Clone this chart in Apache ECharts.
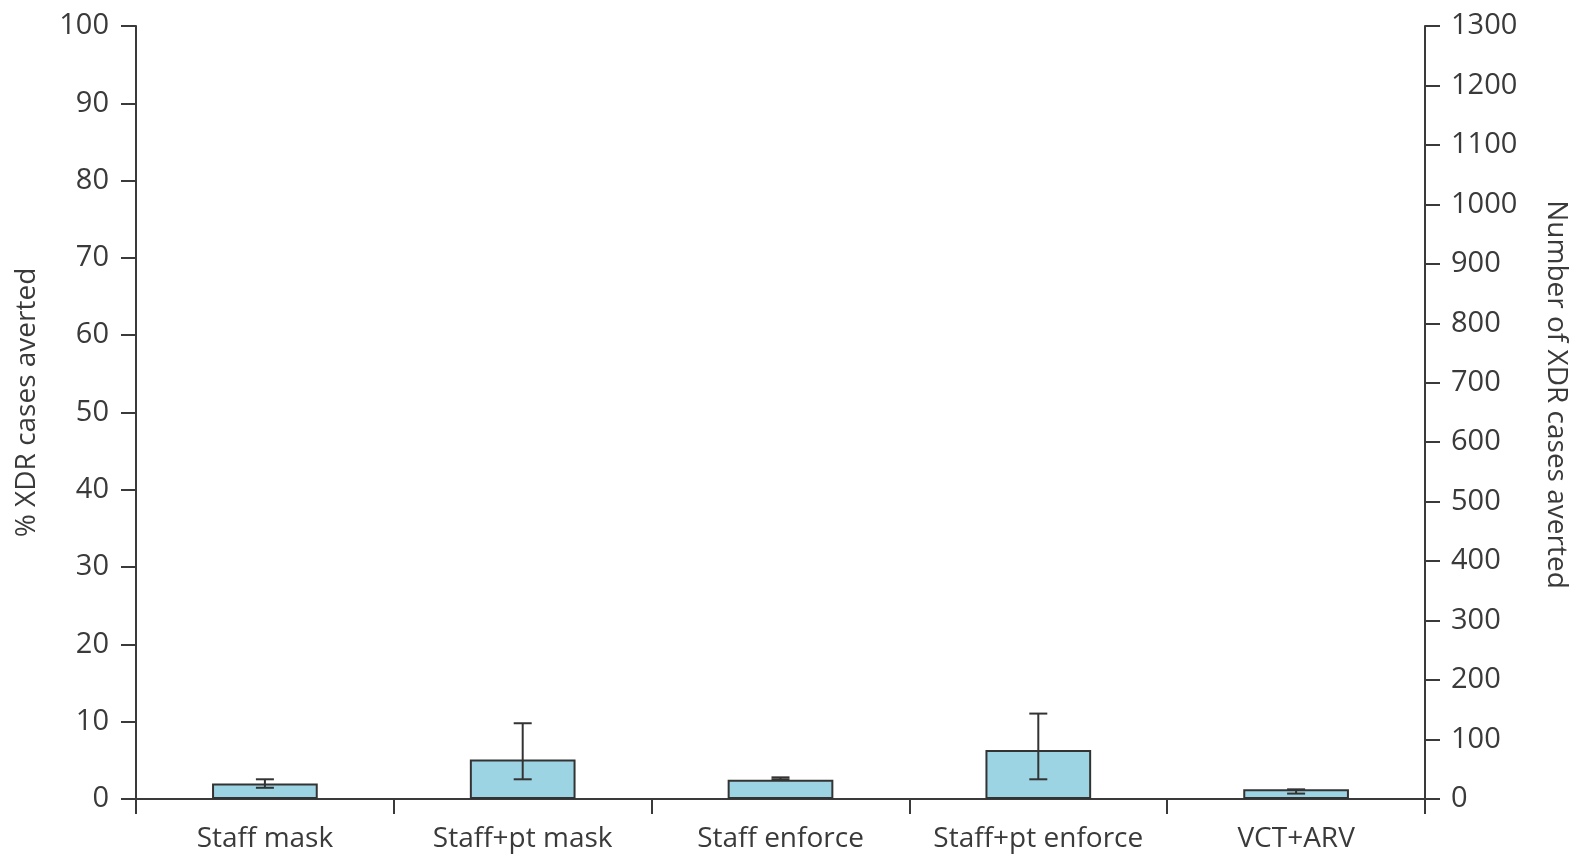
<!DOCTYPE html>
<html>
<head>
<meta charset="utf-8">
<script src="https://cdn.jsdelivr.net/npm/echarts@6/dist/echarts.min.js"></script>
<style>
  html, body { margin: 0; padding: 0; background: #fff; }
  #chart { width: 1578px; height: 856px; }
</style>
</head>
<body>
<div id="chart"></div>
<script>
// Interventions and the share of XDR cases averted by each (%)
const categories = ['Staff mask', 'Staff+pt mask', 'Staff enforce', 'Staff+pt enforce', 'VCT+ARV'];
const percentAverted = [2.0, 5.1, 2.5, 6.35, 1.25];
// Uncertainty range for each intervention (%)
const errorLow = [1.45, 2.55, 2.55, 2.55, 0.7];
const errorHigh = [2.55, 9.8, 2.8, 11.05, 1.25];
// Axis scales: percentage on the left, number of cases on the right
const leftMax = 100, leftStep = 10;
const rightMax = 1300, rightStep = 100;

const textColor = '#3a3a3a';
const lineColor = '#3a3a3a';
const fontFamily = '"Open Sans", "Noto Sans", sans-serif';

const errorData = categories.map((c, i) => [i, errorLow[i], errorHigh[i]]);

const chart = echarts.init(document.getElementById('chart'));
chart.setOption({
  animation: false,
  grid: { left: 136, right: 152, top: 26, bottom: 57 },
  xAxis: {
    type: 'category',
    data: categories,
    axisLine: { lineStyle: { color: lineColor, width: 2 } },
    axisTick: { show: true, length: 15, inside: false, lineStyle: { color: lineColor, width: 2 } },
    axisLabel: { interval: 0, color: textColor, fontSize: 28, fontFamily: fontFamily, margin: 26 }
  },
  yAxis: [
    {
      type: 'value', min: 0, max: leftMax, interval: leftStep,
      name: '% XDR cases averted', nameLocation: 'middle', nameGap: 95,
      nameTextStyle: { color: textColor, fontSize: 28, fontFamily: fontFamily, padding: [0, 0, 0, 20] },
      axisLine: { show: true, lineStyle: { color: lineColor, width: 2 } },
      axisTick: { show: true, length: 15, lineStyle: { color: lineColor, width: 2 } },
      axisLabel: { color: textColor, fontSize: 29, fontFamily: fontFamily, margin: 27 },
      splitLine: { show: false }
    },
    {
      type: 'value', min: 0, max: rightMax, interval: rightStep, position: 'right',
      name: 'Number of XDR cases averted', nameLocation: 'middle', nameGap: 117, nameRotate: -90,
      nameTextStyle: { color: textColor, fontSize: 28, fontFamily: fontFamily, padding: [0, 36, 0, 0] },
      axisLine: { show: true, lineStyle: { color: lineColor, width: 2 } },
      axisTick: { show: true, length: 15, lineStyle: { color: lineColor, width: 2 } },
      axisLabel: { color: textColor, fontSize: 29, fontFamily: fontFamily, margin: 26,
                   formatter: function (v) { return String(v); } },
      splitLine: { show: false }
    }
  ],
  series: [
    {
      type: 'bar',
      data: percentAverted,
      barWidth: '41%',
      itemStyle: { color: '#9dd4e4', borderColor: '#333', borderWidth: 2 }
    },
    {
      type: 'custom',
      data: errorData,
      z: 10,
      renderItem: function (params, api) {
        const x = api.value(0);
        const lo = api.coord([x, api.value(1)]);
        const hi = api.coord([x, api.value(2)]);
        const half = 9;
        const style = { stroke: '#333', lineWidth: 2 };
        return {
          type: 'group',
          children: [
            { type: 'line', shape: { x1: lo[0], y1: lo[1], x2: hi[0], y2: hi[1] }, style: style },
            { type: 'line', shape: { x1: lo[0] - half, y1: lo[1], x2: lo[0] + half, y2: lo[1] }, style: style },
            { type: 'line', shape: { x1: hi[0] - half, y1: hi[1], x2: hi[0] + half, y2: hi[1] }, style: style }
          ]
        };
      }
    }
  ]
});
</script>
</body>
</html>
